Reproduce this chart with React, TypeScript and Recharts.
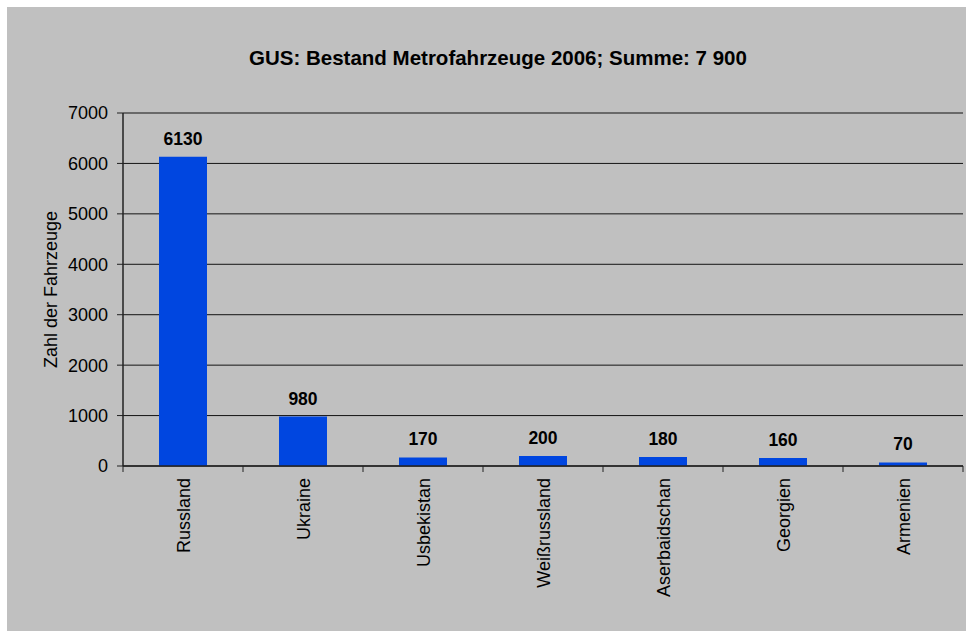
import { Bar, BarChart, CartesianGrid, LabelList, XAxis, YAxis } from "recharts";

const COUNTRIES = ["Russland", "Ukraine", "Usbekistan", "Weißrussland", "Aserbaidschan", "Georgien", "Armenien"];
const VEHICLES = [6130, 980, 170, 200, 180, 160, 70];
const Y_TICKS = [0, 1000, 2000, 3000, 4000, 5000, 6000, 7000];

const data = COUNTRIES.map((name, i) => ({ name, value: VEHICLES[i] }));

const FONT = "'Liberation Sans', Arial, Helvetica, sans-serif";
const HALF_BAND = 60;

function CountryTick(props: any) {
  const { x, y, payload, index } = props;
  const last = index === COUNTRIES.length - 1;
  return (
    <g>
      <line x1={x - HALF_BAND} y1={y} x2={x - HALF_BAND} y2={y + 6} stroke="#222" />
      {last && <line x1={x + HALF_BAND} y1={y} x2={x + HALF_BAND} y2={y + 6} stroke="#222" />}
      <text
        x={x + 7}
        y={y + 12}
        transform={`rotate(-90 ${x + 7} ${y + 12})`}
        textAnchor="end"
        fontSize={18}
        fontFamily={FONT}
        fill="#000"
      >
        {payload.value}
      </text>
    </g>
  );
}

export default function App() {
  return (
    <div style={{ position: "absolute", top: 7, left: 7, width: 959, height: 624, background: "#C0C0C0" }}>
      <div
        style={{
          position: "absolute",
          top: 39,
          left: 0,
          width: 982,
          textAlign: "center",
          fontFamily: FONT,
          fontWeight: "bold",
          fontSize: 20.5,
        }}
      >
        GUS: Bestand Metrofahrzeuge 2006; Summe: 7 900
      </div>
      <BarChart
        width={959}
        height={624}
        data={data}
        margin={{ top: 106, right: 3, left: 0, bottom: 0 }}
        barCategoryGap="30%"
      >
        <CartesianGrid vertical={false} stroke="#000" strokeOpacity={0.9} />
        <XAxis
          dataKey="name"
          height={165}
          interval={0}
          tickSize={0}
          tickMargin={0}
          axisLine={{ stroke: "#222", strokeWidth: 1.5 }}
          tickLine={false}
          tick={<CountryTick />}
        />
        <YAxis
          width={116}
          domain={[0, 7000]}
          ticks={Y_TICKS}
          interval={0}
          tickSize={6}
          tickMargin={9}
          axisLine={{ stroke: "#222", strokeWidth: 1.5 }}
          tickLine={{ stroke: "#222" }}
          tick={{ fill: "#000", fontSize: 18, fontFamily: FONT }}
          label={{
            value: "Zahl der Fahrzeuge",
            angle: -90,
            position: "center",
            dx: -14,
            fill: "#000",
            fontSize: 18,
            fontFamily: FONT,
          }}
        />
        <YAxis
          yAxisId="frame"
          orientation="right"
          width={0}
          domain={[0, 7000]}
          tick={false}
          tickLine={false}
          axisLine={{ stroke: "#444", strokeWidth: 1.5 }}
        />
        <Bar dataKey="value" fill="#0046E0" isAnimationActive={false}>
          <LabelList
            dataKey="value"
            position="top"
            offset={12}
            fill="#000"
            fontSize={17.5}
            fontWeight="bold"
            fontFamily={FONT}
          />
        </Bar>
      </BarChart>
    </div>
  );
}
